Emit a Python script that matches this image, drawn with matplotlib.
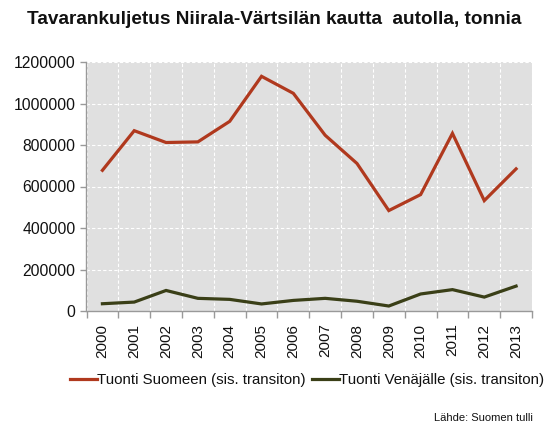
import matplotlib
matplotlib.use("Agg")
import matplotlib.pyplot as plt
import numpy as np

plt.rcParams['font.family'] = ['Liberation Sans', 'DejaVu Sans']

years = ["2000", "2001", "2002", "2003", "2004", "2005", "2006",
         "2007", "2008", "2009", "2010", "2011", "2012", "2013"]
tuonti_suomeen = [678000, 869000, 812000, 815000, 914000, 1131000, 1049000,
                  847000, 711000, 484000, 561000, 856000, 532000, 685000]
tuonti_venajalle = [35000, 43000, 99000, 61000, 56000, 34000, 51000,
                    61000, 47000, 24000, 82000, 103000, 67000, 120000]
yticks = [0, 200000, 400000, 600000, 800000, 1000000, 1200000]

fig = plt.figure(figsize=(5.51, 4.34), dpi=100)
ax = fig.add_axes([86.5 / 551, 1 - 311 / 434, (532 - 86.5) / 551, (311 - 62) / 434])
ax.set_facecolor("#E0E0E0")

x = np.arange(len(years))
red = "#B0391E"
green = "#3A3F17"
ax.plot(x, tuonti_suomeen, color=red, lw=2.3, label="Tuonti Suomeen (sis. transiton)",
        solid_joinstyle="miter", zorder=3)
ax.plot(x, tuonti_venajalle, color=green, lw=2.3, label="Tuonti Venäjälle (sis. transiton)",
        solid_joinstyle="miter", zorder=3)

ax.set_xlim(-0.5, len(years) - 0.5)
ax.set_ylim(0, 1200000)
ax.set_yticks(yticks)
ax.set_yticklabels([str(v) for v in yticks], fontsize=11.3, color="#111111")

# category boundaries for ticks and vertical grid
bounds = np.arange(-0.5, len(years) + 0.5, 1)
ax.set_xticks(bounds)
ax.set_xticklabels([])
ax.set_xticks(x, minor=True)
ax.set_xticklabels(years, minor=True, rotation=90, fontsize=11, color="#111111")
ax.tick_params(axis="x", which="minor", length=0, pad=9)
ax.tick_params(axis="x", which="major", length=5, color="#999999", width=1)
ax.tick_params(axis="y", length=4, color="#999999", width=1, pad=4)

ax.grid(True, which="major", color="white", linestyle=(0, (3, 2)), linewidth=0.8, zorder=1)
ax.set_axisbelow(True)
for s in ["top", "right"]:
    ax.spines[s].set_visible(False)
for s in ["left", "bottom"]:
    ax.spines[s].set_color("#999999")
    ax.spines[s].set_linewidth(1)

fig.text(274 / 551, 1 - 20 / 434, "Tavarankuljetus Niirala-Värtsilän kautta  autolla, tonnia",
         ha="center", va="center", fontsize=13.7, fontweight="bold", color="#111111")

leg = fig.legend(loc="center", bbox_to_anchor=(307 / 551, 1 - 380 / 434), ncol=2,
                 frameon=False, fontsize=10.8, handlelength=1.8, handletextpad=0.0,
                 columnspacing=0.4, borderaxespad=0, borderpad=0)
for t in leg.get_texts():
    t.set_color("#111111")

fig.text(533 / 551, 1 - 418 / 434, "Lähde: Suomen tulli", ha="right", va="center",
         fontsize=8, color="#111111")

fig.savefig("out.png", dpi=100)
